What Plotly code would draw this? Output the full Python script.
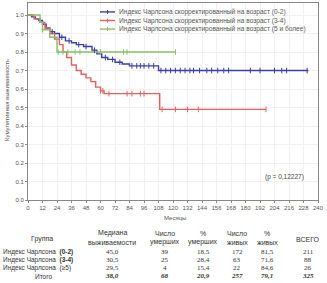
import plotly.graph_objects as go

# ---- data ----
months_ticks = list(range(0, 241, 12))
y_ticks = [0.0, 0.1, 0.2, 0.3, 0.4, 0.5, 0.6, 0.7, 0.8, 0.9, 1.0]

names = ["Индекс Чарлсона скорректированный на возраст (0-2)",
         "Индекс Чарлсона скорректированный на возраст (3-4)",
         "Индекс Чарлсона скорректированный на возраст (5 и более)"]

g1_t = [0, 3, 6, 9, 12, 15, 18, 22, 26, 31, 36, 40, 46, 53, 57, 61, 66, 72, 78, 84, 108, 232]
g1_s = [1.0, 0.99, 0.98, 0.97, 0.95, 0.93, 0.91, 0.90, 0.88, 0.86, 0.85, 0.84, 0.83, 0.81, 0.79, 0.77, 0.76, 0.745, 0.735, 0.725, 0.70, 0.70]
g1_c = [20, 28, 34, 42, 48, 55, 64, 70, 76, 86, 90, 93, 96, 100, 104, 110, 114, 118, 122, 126, 130, 134,
        137, 142, 148, 152, 157, 162, 166, 184, 192, 204, 210, 214, 231]

g2_t = [0, 5, 10, 14, 18, 22, 26, 29, 32, 36, 40, 44, 48, 52, 56, 60, 63, 109, 197]
g2_s = [1.0, 0.98, 0.96, 0.93, 0.90, 0.87, 0.84, 0.80, 0.77, 0.73, 0.70, 0.68, 0.66, 0.64, 0.61, 0.59, 0.575, 0.49, 0.49]
g2_c = [60, 62, 67, 82, 86, 93, 96, 111, 122, 132, 141, 197]

g3_t = [0, 10, 12, 18, 24, 122]
g3_s = [1.0, 0.96, 0.92, 0.88, 0.80, 0.80]
g3_c = [12, 25, 29, 33, 39, 43, 60, 79, 82, 122]

colors = ["#3b3fa6", "#e2605f", "#8cbf6a"]

x_title = "Месяцы"
y_title = "Кумулятивная выживаемость"
p_text = "(p = 0,12227)"

tbl_head = [["Группа"], ["Медиана", "выживаемости"], ["Число", "умерших"], ["%", "умерших"],
            ["Число", "живых"], ["%", "живых"], ["ВСЕГО"]]
tbl_rows = ["Индекс Чарлсона  <b>(0-2)</b>", "Индекс Чарлсона  <b>(3-4)</b>",
            "Индекс Чарлсона  (≥5)"]
tbl_total = "Итого"
tbl_vals = [["45,0", "39", "18,5", "172", "81,5", "211"],
            ["30,5", "25", "28,4", "63", "71,6", "88"],
            ["29,5", "4", "15,4", "22", "84,6", "26"]]
tbl_tot_vals = ["38,0", "68", "20,9", "257", "79,1", "325"]

# ---- figure ----
W, H = 327, 283
L, R, T, B = 28, 9, 3, 83
pw, ph = W - L - R, H - T - B


def px2x(px):
    return (px - L) / pw


def py2y(py):
    return (T + ph - py) / ph


def surv_at(ts, ss, t):
    v = ss[0]
    for ti, si in zip(ts, ss):
        if ti <= t:
            v = si
    return v


fig = go.Figure()
groups = [(g1_t, g1_s, g1_c), (g2_t, g2_s, g2_c), (g3_t, g3_s, g3_c)]
for (ts, ss, cs), nm, col in zip(groups, names, colors):
    fig.add_trace(go.Scatter(x=ts, y=ss, mode="lines", line=dict(color=col, width=1.4, shape="hv"),
                             name=nm, showlegend=False))
for (ts, ss, cs), nm, col in zip(groups, names, colors):
    fig.add_trace(go.Scatter(x=cs, y=[surv_at(ts, ss, c) for c in cs], mode="markers",
                             marker=dict(symbol="line-ns", size=4, line=dict(color=col, width=1)),
                             showlegend=False, hoverinfo="skip"))

fig.update_layout(
    width=W, height=H, margin=dict(l=L, r=R, t=T, b=B, autoexpand=False),
    paper_bgcolor="white", plot_bgcolor="white",
    font=dict(family="Liberation Sans, Arial, sans-serif", size=6, color="#444"),
    showlegend=False,
    xaxis=dict(range=[0, 240], tickvals=months_ticks, showline=True, linecolor="#888", linewidth=1,
               mirror=True, ticks="outside", ticklen=2, tickcolor="#888", automargin=False,
               showgrid=True, gridcolor="#f1f1f1", zeroline=False,
               tickfont=dict(size=6, color="#555")),
    yaxis=dict(range=[0, 1.065], tickvals=y_ticks, tickformat=".1f", showline=True, linecolor="#888",
               linewidth=1, mirror=True, ticks="outside", ticklen=2, tickcolor="#888", automargin=False,
               showgrid=True, gridcolor="#f1f1f1", zeroline=False,
               tickfont=dict(size=6, color="#555")),
)

ann = []
shapes = []
# custom compact legend: one multi-line text block plus short line samples
leg_font = 6.6
leg_step = leg_font * 1.3
leg_mid = 20.5
leg_y = [leg_mid - leg_step, leg_mid, leg_mid + leg_step]
for ly, col in zip(leg_y, colors):
    shapes.append(dict(type="line", xref="paper", yref="paper", x0=px2x(100), x1=px2x(115),
                       y0=py2y(ly), y1=py2y(ly), line=dict(color=col, width=1.4)))
    shapes.append(dict(type="line", xref="paper", yref="paper", x0=px2x(107.5), x1=px2x(107.5),
                       y0=py2y(ly - 2), y1=py2y(ly + 2), line=dict(color=col, width=1)))
ann.append(dict(x=px2x(117), y=py2y(leg_mid), text="<br>".join(names), showarrow=False,
                xref="paper", yref="paper", align="left",
                font=dict(size=leg_font, color="#555"), xanchor="left", yanchor="middle"))

ann.append(dict(x=px2x(175), y=py2y(218), text=x_title, showarrow=False, xref="paper", yref="paper",
                font=dict(size=6, color="#555"), xanchor="center", yanchor="middle"))
ann.append(dict(x=px2x(7), y=py2y(100), text=y_title, showarrow=False, xref="paper", yref="paper",
                font=dict(size=6, color="#555"), textangle=-90, xanchor="center", yanchor="middle"))
ann.append(dict(x=px2x(284), y=py2y(177), text=p_text, showarrow=False, xref="paper", yref="paper",
                font=dict(size=6.5, color="#444"), xanchor="center", yanchor="middle"))

col_x = [42, 112, 165, 203, 237, 267, 308]
for cx, hd in zip(col_x, tbl_head):
    if len(hd) == 1:
        ys = [239]
    else:
        ys = [233, 242]
    for yy, tx in zip(ys, hd):
        ann.append(dict(x=px2x(cx), y=py2y(yy), text=tx, showarrow=False, xref="paper", yref="paper",
                        font=dict(size=7, color="#333", family="Liberation Sans, Arial, sans-serif"),
                        xanchor="center", yanchor="middle"))

row_y = [252, 260, 268]
for ry, lab, vals in zip(row_y, tbl_rows, tbl_vals):
    ann.append(dict(x=px2x(1), y=py2y(ry), text=lab, showarrow=False, xref="paper", yref="paper",
                    font=dict(size=6.5, color="#333", family="Liberation Sans, Arial, sans-serif"),
                    xanchor="left", yanchor="middle"))
    for cx, v in zip(col_x[1:], vals):
        ann.append(dict(x=px2x(cx), y=py2y(ry), text=v, showarrow=False, xref="paper", yref="paper",
                        font=dict(size=7, color="#333", family="Liberation Serif, Times New Roman, serif"),
                        xanchor="center", yanchor="middle"))
ann.append(dict(x=px2x(43), y=py2y(276), text=tbl_total, showarrow=False, xref="paper", yref="paper",
                font=dict(size=6.5, color="#333", family="Liberation Sans, Arial, sans-serif"),
                xanchor="center", yanchor="middle"))
for cx, v in zip(col_x[1:], tbl_tot_vals):
    ann.append(dict(x=px2x(cx), y=py2y(276), text="<b><i>" + v + "</i></b>", showarrow=False,
                    xref="paper", yref="paper",
                    font=dict(size=7, color="#333", family="Liberation Serif, Times New Roman, serif"),
                    xanchor="center", yanchor="middle"))

fig.update_layout(annotations=ann, shapes=shapes)
fig.write_html("out.html", config={"displayModeBar": False},
               post_script="document.body.style.margin='0';document.body.style.overflow='hidden';")
